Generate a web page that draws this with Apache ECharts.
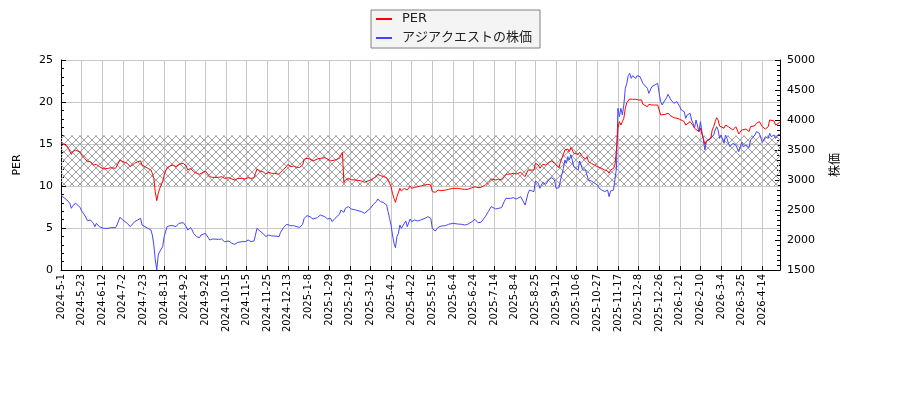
<!DOCTYPE html>
<html><head><meta charset="utf-8">
<script src="https://cdn.jsdelivr.net/npm/echarts@6/dist/echarts.min.js"></script>
<style>html,body{margin:0;padding:0;background:#fff}#c{width:900px;height:400px}</style>
</head><body><div id="c"></div>
<script>
// trading calendar (Tokyo Stock Exchange)
const firstDay = '2024-05-01';
const lastDay = '2026-05-01';
const holidays = ['2024-5-3','2024-5-6','2024-7-15','2024-8-12','2024-9-16','2024-9-23','2024-10-14','2024-11-4','2024-12-31',
  '2025-1-1','2025-1-2','2025-1-3','2025-1-13','2025-2-11','2025-2-24','2025-3-20','2025-4-29','2025-5-5','2025-5-6',
  '2025-7-21','2025-8-11','2025-9-15','2025-9-23','2025-10-13','2025-11-3','2025-11-24','2025-12-31',
  '2026-1-1','2026-1-2','2026-1-12','2026-2-11','2026-2-23','2026-3-20','2026-4-29'];

const sampleDay = [0,2,4,5,6,7,8,10,11,13,14,16,18,20,21,22,23,24,25,26,29,30,32,34,37,38,40,41,42,45,47,48,50,52,54,55,57,59,61,62,63,64,65,66,67,68,69,70,72,74,76,78,80,81,83,85,86,88,89,90,92,94,95,98,99,101,103,107,109,111,114,116,118,120,
  123,125,127,129,131,132,133,135,137,139,141,143,145,148,149,151,153,154,156,158,160,162,164,165,167,169,171,174,176,177,179,181,183,184,186,187,189,190,191,192,193,195,197,200,201,204,206,207,210,212,214,215,217,219,221,222,223,224,225,226,227,228,229,230,231,233,234,235,237,238,240,242,
  244,247,249,251,252,254,256,258,261,263,266,269,272,274,276,279,281,283,285,288,290,292,295,297,299,301,302,305,307,309,312,313,315,317,318,321,322,324,325,327,329,331,333,335,336,338,339,341,342,343,344,345,346,347,348,349,351,352,353,354,356,357,358,360,361,364,365,
  367,369,371,372,373,375,376,377,378,379,380,381,382,383,384,385,386,387,388,390,391,392,393,394,395,396,398,399,400,401,402,403,404,405,406,407,408,410,411,412,414,416,418,420,421,423,424,425,427,428,429,430,431,433,434,435,436,437,438,439,441,442,443,444,445,446,447,448,450,451,452,453,454,456,458,459,460,462,463,465,467,468,469,471,472,474,476,477,478,480,481,482,484,485,486,487,488];

const perValues = [15.08,14.96,14.80,14.48,14.37,13.77,14.09,14.29,14.17,14.01,13.69,13.29,12.90,12.90,12.70,12.50,12.30,12.58,12.50,12.30,12.02,11.90,12.10,12.18,12.10,12.30,13.10,13.21,12.90,12.70,12.30,12.22,12.70,12.90,12.98,12.50,12.30,12.10,11.90,11.51,10.91,9.30,8.25,9.13,9.72,9.92,10.52,11.31,12.18,12.38,12.50,12.30,12.58,12.50,12.70,12.38,11.90,12.10,11.90,11.71,11.51,11.39,11.51,11.79,11.63,11.11,11.03,11.03,11.11,10.91,10.99,10.83,10.71,10.91,
  10.91,10.83,10.99,10.91,10.99,11.51,12.02,11.79,11.71,11.43,11.63,11.51,11.51,11.39,11.63,11.98,12.30,12.58,12.30,12.38,12.22,12.22,12.50,13.17,13.29,13.21,12.98,13.21,13.29,13.49,13.37,13.21,12.98,12.82,13.10,13.21,13.29,13.69,14.01,10.40,10.71,10.91,10.75,10.71,10.63,10.60,10.44,10.40,10.71,10.91,11.11,11.39,11.23,11.11,10.99,10.71,10.32,9.92,9.13,8.53,8.06,8.73,8.93,9.72,9.40,9.72,9.80,9.52,10.00,9.72,9.84,9.92,
  10.00,10.12,10.20,10.12,9.33,9.25,9.52,9.44,9.52,9.60,9.72,9.72,9.64,9.60,9.60,9.80,9.92,9.80,9.84,10.12,10.44,10.83,10.71,10.83,10.71,11.11,11.39,11.43,11.51,11.43,11.63,11.43,11.11,11.90,12.10,11.90,12.70,12.50,12.10,12.58,12.50,12.82,12.98,12.70,12.50,12.18,12.90,13.77,14.29,14.09,14.40,14.09,14.56,14.29,13.89,13.69,13.77,14.01,13.89,13.49,13.21,13.49,12.90,12.70,12.58,12.30,12.18,
  12.10,11.90,11.79,11.51,11.90,12.10,12.50,14.29,16.87,17.66,17.26,17.66,18.06,19.25,19.92,20.04,20.36,20.16,20.32,20.32,20.32,20.24,20.44,20.24,19.72,19.84,19.44,19.72,19.56,19.64,19.56,19.64,19.72,19.64,19.05,18.45,18.25,18.53,18.33,18.65,18.33,18.13,18.06,17.94,17.74,17.66,17.26,17.46,17.66,17.46,17.18,16.87,17.06,16.47,16.87,16.19,15.67,14.96,15.36,15.48,15.67,16.67,17.06,17.66,18.13,17.86,17.14,17.26,16.87,17.26,17.46,17.06,16.87,16.67,17.06,16.67,16.19,16.67,16.47,16.78,16.47,17.06,16.87,17.18,17.46,17.66,17.06,17.26,16.78,17.06,17.86,17.66,17.74,17.26,17.26,17.46,17.66];

const priceValues = [2739,2706,2667,2639,2611,2528,2572,2611,2583,2544,2483,2417,2322,2333,2306,2278,2222,2278,2250,2222,2194,2167,2194,2206,2206,2250,2378,2389,2333,2278,2222,2211,2306,2333,2361,2250,2222,2194,2167,2083,1917,1667,1500,1750,1806,1833,1889,2056,2222,2239,2239,2222,2278,2250,2289,2222,2167,2206,2167,2111,2056,2039,2083,2111,2083,2000,2017,2011,2017,1972,1983,1944,1928,1961,
  1972,1972,2000,1972,1983,2083,2194,2150,2111,2056,2083,2067,2067,2056,2128,2206,2261,2278,2239,2239,2222,2211,2261,2361,2406,2389,2350,2372,2417,2428,2389,2350,2361,2306,2361,2378,2428,2500,2511,2461,2528,2556,2517,2500,2483,2472,2444,2472,2528,2594,2639,2683,2639,2622,2583,2472,2361,2250,2083,1944,1872,2056,2111,2250,2194,2278,2317,2222,2350,2306,2333,2317,
  2333,2361,2389,2361,2194,2150,2211,2233,2239,2261,2278,2267,2261,2250,2261,2306,2344,2289,2294,2389,2472,2556,2517,2528,2539,2650,2694,2694,2706,2683,2722,2694,2583,2778,2833,2806,2983,2944,2861,2961,2928,3000,3039,3000,2861,2872,3000,3194,3333,3278,3389,3333,3417,3333,3222,3222,3167,3317,3250,3167,3167,3139,3000,2983,2972,2917,2872,
  2833,2806,2833,2722,2817,2833,2861,3194,4194,4056,4194,4083,4250,4528,4611,4739,4778,4694,4739,4694,4739,4761,4722,4750,4611,4611,4528,4444,4428,4556,4556,4583,4556,4611,4444,4306,4250,4333,4372,4428,4333,4278,4306,4222,4167,4139,4028,4083,4111,4000,3944,3872,4000,3806,3972,3806,3667,3500,3639,3667,3694,3700,3750,3833,3889,3833,3694,3750,3611,3750,3694,3611,3556,3611,3583,3611,3472,3628,3556,3583,3540,3667,3694,3750,3806,3778,3628,3667,3722,3694,3778,3722,3750,3694,3722,3761,3750];

const seriesNames = ['PER', 'アジアクエストの株価'];
const perBand = [10, 16];

function buildTradingDays() {
  const out = [];
  const d = new Date(firstDay + 'T00:00:00Z');
  const end = new Date(lastDay + 'T00:00:00Z');
  while (d <= end) {
    const w = d.getUTCDay();
    const s = d.getUTCFullYear() + '-' + (d.getUTCMonth() + 1) + '-' + d.getUTCDate();
    if (w !== 0 && w !== 6 && holidays.indexOf(s) < 0) out.push(s);
    d.setUTCDate(d.getUTCDate() + 1);
  }
  return out;
}
const days = buildTradingDays();

const pc = document.createElement('canvas');
pc.width = 8; pc.height = 8;
const g = pc.getContext('2d');
g.strokeStyle = '#a0a0a0'; g.lineWidth = 1;
g.beginPath(); g.moveTo(0, 0); g.lineTo(8, 8); g.moveTo(8, 0); g.lineTo(0, 8); g.stroke();

const FONT = 'DejaVu Sans, "Noto Sans CJK JP", sans-serif';
const plain = v => String(v);
const chart = echarts.init(document.getElementById('c'), null, {renderer: 'canvas'});
chart.setOption({
  animation: false,
  textStyle: {fontFamily: FONT},
  legend: {
    left: 371, top: 10, orient: 'vertical',
    backgroundColor: '#f4f4f4', borderColor: '#808080', borderWidth: 1, borderRadius: 0,
    padding: [2, 8, 3, 5], itemGap: 5, itemWidth: 16, itemHeight: 2, icon: 'rect',
    textStyle: {fontSize: 13, color: '#222', fontFamily: FONT, padding: [0, 0, 0, 5], lineHeight: 14},
    data: seriesNames
  },
  grid: {left: 61, right: 120, top: 60, bottom: 130, containLabel: false},
  xAxis: {
    type: 'category', data: days, boundaryGap: false,
    axisLine: {lineStyle: {color: '#000', width: 1}},
    axisTick: {inside: true, length: 4, interval: 13, lineStyle: {color: '#000'}},
    axisLabel: {rotate: 90, interval: 13, fontSize: 10, color: '#000', margin: 4, fontFamily: FONT},
    splitLine: {show: true, interval: 13, lineStyle: {color: '#c8c8c8', width: 1}}
  },
  yAxis: [{
    type: 'value', position: 'left', min: 0, max: 25, interval: 5,
    name: 'PER', nameLocation: 'middle', nameGap: 38, nameRotate: 90,
    nameTextStyle: {fontSize: 11, color: '#000', fontFamily: FONT},
    axisLine: {show: true, lineStyle: {color: '#000'}},
    axisTick: {show: true, inside: true, length: 5, lineStyle: {color: '#000'}},
    minorTick: {show: true, splitNumber: 5, length: 3, lineStyle: {color: '#000'}},
    axisLabel: {fontSize: 11, color: '#000', margin: 8, fontFamily: FONT, formatter: plain},
    splitLine: {show: true, lineStyle: {color: '#c8c8c8', width: 1}}
  }, {
    type: 'value', position: 'right', min: 1500, max: 5000, interval: 500,
    name: '株価', nameLocation: 'middle', nameGap: 50, nameRotate: 90,
    nameTextStyle: {fontSize: 12, color: '#000', fontFamily: FONT},
    axisLine: {show: true, lineStyle: {color: '#000'}},
    axisTick: {show: true, inside: true, length: 5, lineStyle: {color: '#000'}},
    minorTick: {show: true, splitNumber: 6, length: 3, lineStyle: {color: '#000'}},
    axisLabel: {fontSize: 11, color: '#000', margin: 7, fontFamily: FONT, formatter: plain},
    splitLine: {show: false}
  }],
  series: [{
    name: seriesNames[0], type: 'line', yAxisIndex: 0,
    symbol: 'none', showSymbol: false,
    lineStyle: {color: '#ff0000', width: 1}, itemStyle: {color: '#ff0000'},
    data: sampleDay.map((d, k) => [days[d], perValues[k]]),
    markArea: {
      silent: true,
      itemStyle: {color: {image: pc, repeat: 'repeat'}},
      data: [[{yAxis: perBand[0]}, {yAxis: perBand[1]}]]
    },
    z: 3
  }, {
    name: seriesNames[1], type: 'line', yAxisIndex: 1,
    symbol: 'none', showSymbol: false,
    lineStyle: {color: '#4444ff', width: 1}, itemStyle: {color: '#4444ff'},
    data: sampleDay.map((d, k) => [days[d], priceValues[k]]),
    z: 2
  }]
});
</script></body></html>
